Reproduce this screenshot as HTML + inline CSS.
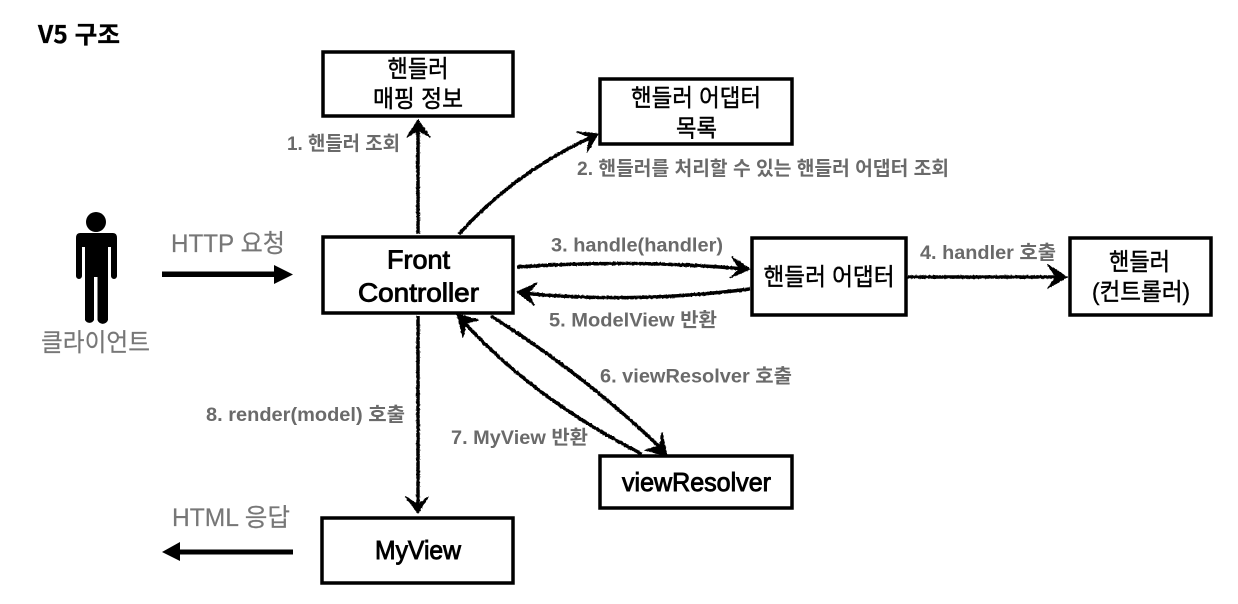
<!DOCTYPE html>
<html lang="ko">
<head>
<meta charset="utf-8">
<style>
html,body{margin:0;padding:0;background:#fff;width:1238px;height:604px;overflow:hidden}
svg{display:block}
text{font-family:"Liberation Sans","Noto Sans CJK KR",sans-serif}
.box{fill:#fff;stroke:#000;stroke-width:3.500}
.t{font-size:24px;fill:#000;stroke:#000;stroke-width:.4;text-anchor:middle}
.b{font-size:26px;fill:#000;stroke:#000;stroke-width:.9;text-anchor:middle}
.g{font-size:25px;fill:#777;stroke:#777;stroke-width:.2}
.l{font-size:19.500px;font-weight:bold;fill:#6b6b6b}
.a{fill:none;stroke:#000;stroke-width:3.500;stroke-linecap:butt}
.h{fill:#000;stroke:#000;stroke-width:1.200;stroke-linejoin:round}
</style>
</head>
<body>
<svg width="1238" height="604" viewBox="0 0 1238 604" xmlns="http://www.w3.org/2000/svg">
<defs>
<filter id="r" x="0" y="0" width="1238" height="604" filterUnits="userSpaceOnUse" primitiveUnits="userSpaceOnUse">
<feTurbulence type="fractalNoise" baseFrequency="0.45" numOctaves="2" seed="4"/>
<feDisplacementMap in="SourceGraphic" scale="2" xChannelSelector="R" yChannelSelector="G"/>
<feGaussianBlur stdDeviation="0.35"/>
</filter>
<filter id="s" x="0" y="0" width="1238" height="604" filterUnits="userSpaceOnUse"><feGaussianBlur stdDeviation="0.35"/></filter>
</defs>

<g filter="url(#s)">
<text x="38" y="43" style="font-family:'Noto Sans CJK KR','Liberation Sans',sans-serif;font-size:24px;font-weight:bold" fill="#000" stroke="#000" stroke-width=".3" textLength="82" lengthAdjust="spacingAndGlyphs">V5 구조</text>

<rect class="box" x="323" y="52" width="190" height="64"/>
<text class="t" x="418" y="77" textLength="61" lengthAdjust="spacingAndGlyphs">핸들러</text>
<text class="t" x="418" y="107" textLength="90" lengthAdjust="spacingAndGlyphs">매핑 정보</text>

<rect class="box" x="600" y="79" width="192" height="65"/>
<text class="t" x="696" y="106" textLength="130" lengthAdjust="spacingAndGlyphs">핸들러 어댑터</text>
<text class="t" x="696.500" y="136.500" textLength="41" lengthAdjust="spacingAndGlyphs">목록</text>

<rect class="box" x="323" y="237" width="190" height="76"/>
<text class="b" x="418.500" y="268.500" textLength="63" lengthAdjust="spacingAndGlyphs">Front</text>
<text class="b" x="418.500" y="301.500" textLength="121" lengthAdjust="spacingAndGlyphs">Controller</text>

<rect class="box" x="752" y="238" width="154" height="77"/>
<text class="t" x="829" y="285" textLength="131" lengthAdjust="spacingAndGlyphs">핸들러 어댑터</text>

<rect class="box" x="1070" y="238" width="141" height="77"/>
<text class="t" x="1139.500" y="270" textLength="61" lengthAdjust="spacingAndGlyphs">핸들러</text>
<text class="t" x="1141" y="300" textLength="98" lengthAdjust="spacingAndGlyphs">(컨트롤러)</text>

<rect class="box" x="600" y="456" width="192" height="52"/>
<text class="b" x="696.500" y="491" textLength="149" lengthAdjust="spacingAndGlyphs">viewResolver</text>

<rect class="box" x="322" y="518" width="191" height="65"/>
<text class="b" x="418" y="559" textLength="86" lengthAdjust="spacingAndGlyphs">MyView</text>

<!-- person -->
<circle cx="96" cy="222" r="10"/>
<path d="M80 233H113Q117 233 117 238V276A3 3 0 0 1 111 276V247H108V320A5.500 5.500 0 0 1 97.500 320V277H94V320A5 5 0 0 1 85 320V247H82V276A3 3 0 0 1 76 276V238Q76 233 80 233Z"/>
<text class="g" x="41" y="351" textLength="109" lengthAdjust="spacingAndGlyphs">클라이언트</text>

<text class="g" x="171" y="252" textLength="114" lengthAdjust="spacingAndGlyphs">HTTP 요청</text>
<path d="M162 271.500H274V265L293 274.500L274 284V277H162Z"/>

<text class="g" x="172" y="526" textLength="118" lengthAdjust="spacingAndGlyphs">HTML 응답</text>
<path d="M293 549.500H180V542L162 552L180 561V554.500H293Z"/>

<text class="l" x="287" y="150" textLength="113" lengthAdjust="spacingAndGlyphs">1. 핸들러 조회</text>
<text class="l" x="577" y="175" textLength="372" lengthAdjust="spacingAndGlyphs">2. 핸들러를 처리할 수 있는 핸들러 어댑터 조회</text>
<text class="l" x="551" y="251.500" textLength="172" lengthAdjust="spacingAndGlyphs">3. handle(handler)</text>
<text class="l" x="920" y="259" textLength="136" lengthAdjust="spacingAndGlyphs">4. handler 호출</text>
<text class="l" x="549" y="326.500" textLength="168" lengthAdjust="spacingAndGlyphs">5. ModelView 반환</text>
<text class="l" x="600" y="382.500" textLength="192" lengthAdjust="spacingAndGlyphs">6. viewResolver 호출</text>
<text class="l" x="451" y="444" textLength="137" lengthAdjust="spacingAndGlyphs">7. MyView 반환</text>
<text class="l" x="206" y="421" textLength="199" lengthAdjust="spacingAndGlyphs">8. render(model) 호출</text>
</g>

<g filter="url(#r)">
<!-- 1 -->
<path class="a" d="M418 234V124"/>
<path class="h" d="M418 120L430 137L419 131L417 131L407 137Z"/>
<!-- 2 -->
<path class="a" d="M459 234Q515 172 594 136"/>
<path class="h" d="M598 134L577 132L590 137L587 152Z"/>
<!-- 3 -->
<path class="a" d="M517 267Q630 259 745 269"/>
<path class="h" d="M750 269L732 257L740 269L730 278Z"/>
<!-- 4 -->
<path class="a" d="M908 277H1062"/>
<path class="h" d="M1067 277L1048 265L1056 277L1048 288Z"/>
<!-- 5 -->
<path class="a" d="M750 289Q630 304 522 293"/>
<path class="h" d="M517 292L537 283L528 293L534 305Z"/>
<!-- 6 -->
<path class="a" d="M491 316Q585 375 664 451"/>
<path class="h" d="M667 456L662 433L660 446L645 450Z"/>
<!-- 7 -->
<path class="a" d="M642 454Q532 398 462 320"/>
<path class="h" d="M457 314L478 320L466 323L463 337Z"/>
<!-- 8 -->
<path class="a" d="M418 316V509"/>
<path class="h" d="M418 513L406 497L418 505L428 497Z"/>
</g>
</svg>
</body>
</html>
